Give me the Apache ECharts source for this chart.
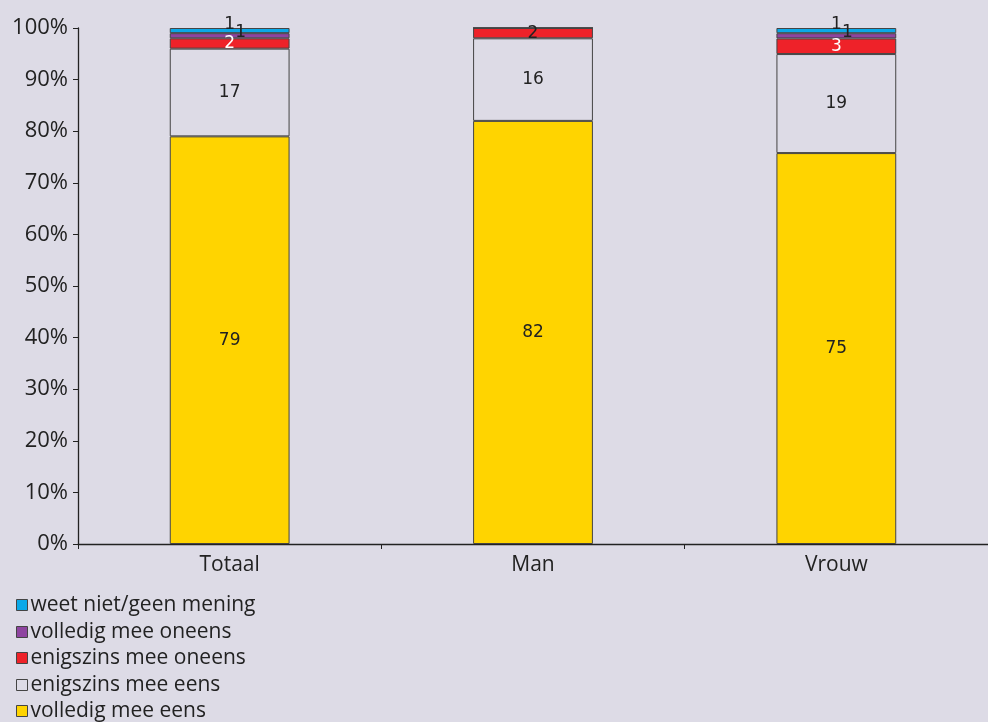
<!DOCTYPE html>
<html><head><meta charset="utf-8">
<script src="https://cdn.jsdelivr.net/npm/echarts@6/dist/echarts.min.js"></script>
<style>html,body{margin:0;padding:0;background:#dddbe6;}#c{width:988px;height:722px;}</style>
</head><body><div id="c"></div>
<script>
const categories = ['Totaal', 'Man', 'Vrouw'];
const volledigEens = [79, 82, 75];
const enigszinsEens = [17, 16, 19];
const enigszinsOneens = [2, 2, 3];
const volledigOneens = [1, 0, 1];
const weetNiet = [1, 0, 1];
const yTicks = ['0%','10%','20%','30%','40%','50%','60%','70%','80%','90%','100%'];
const legendOrder = ['weet niet/geen mening', 'volledig mee oneens', 'enigszins mee oneens', 'enigszins mee eens', 'volledig mee eens'];

const all = [volledigEens, enigszinsEens, enigszinsOneens, volledigOneens, weetNiet];
const totals = categories.map((_, i) => all.reduce((s, a) => s + a[i], 0));
function pct(arr) { return arr.map((v, i) => ({ value: v / totals[i] * 100, raw: v })); }

const axisFont = 'Open Sans';
const labelFont = 'DejaVu Sans';
const border = '#444';
function mk(name, arr, color, labelOpts) {
  return {
    name, type: 'bar', stack: 's', barWidth: '39.5%',
    data: pct(arr).map((d, i) => {
      const o = { value: d.value, raw: d.raw };
      if (labelOpts && labelOpts.perItem && labelOpts.perItem[i]) o.label = labelOpts.perItem[i];
      return o;
    }),
    itemStyle: { color, borderColor: border, borderWidth: 1 },
    label: Object.assign({
      show: true, position: 'inside', color: '#222', fontSize: 17, fontFamily: labelFont,
      formatter: p => p.data.raw === 0 ? '' : String(p.data.raw)
    }, labelOpts ? labelOpts.base : {}),
    emphasis: { disabled: true }
  };
}

const legendCenters = [605, 632, 658, 685, 711];
const legends = legendOrder.map((n, k) => ({
  left: 16, top: legendCenters[k] - 11, padding: 0, itemWidth: 11, itemHeight: 11, icon: 'rect',
  itemStyle: { borderColor: border, borderWidth: 1 },
  textStyle: { fontSize: 21, fontFamily: axisFont, color: '#222', lineHeight: 22, padding: [0, 0, 0, -2] },
  data: [n], selectedMode: false
}));

const chart = echarts.init(document.getElementById('c'));
chart.setOption({
  backgroundColor: '#dddbe6',
  animation: false,
  grid: { left: 78, right: -12, top: 28, bottom: 178, containLabel: false },
  legend: legends,
  xAxis: {
    type: 'category', data: categories,
    axisLine: { lineStyle: { color: '#222', width: 1.3 } },
    axisTick: { show: true, length: 5, lineStyle: { color: '#222' } },
    axisLabel: { fontSize: 21, fontFamily: axisFont, color: '#222', margin: 11 }
  },
  yAxis: {
    type: 'value', min: 0, max: 100, interval: 10,
    axisLine: { show: true, lineStyle: { color: '#222', width: 1.3 } },
    axisTick: { show: true, length: 5, inside: false, lineStyle: { color: '#222' } },
    splitLine: { show: false },
    axisLabel: { fontSize: 22, fontFamily: axisFont, color: '#222', margin: 10,
      formatter: v => yTicks[Math.round(v / 10)] }
  },
  series: [
    mk('volledig mee eens', volledigEens, '#ffd400'),
    mk('enigszins mee eens', enigszinsEens, '#dddbe6'),
    mk('enigszins mee oneens', enigszinsOneens, '#ee2229', {
      base: { color: '#fff' },
      perItem: { 1: { color: '#222' } }
    }),
    mk('volledig mee oneens', volledigOneens, '#8e44a0', { base: { offset: [11, -3] } }),
    mk('weet niet/geen mening', weetNiet, '#0aa8e8', { base: { offset: [0, -6] } })
  ]
});
</script></body></html>
